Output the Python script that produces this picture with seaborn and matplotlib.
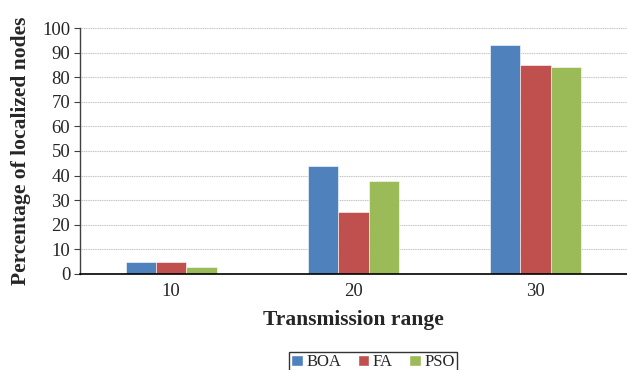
import matplotlib
matplotlib.use("Agg")
import matplotlib.pyplot as plt
import seaborn as sns
import pandas as pd

# Localization results per transmission range
ranges = ["10", "20", "30"]
boa = [5, 44, 93]
fa = [5, 25, 85]
pso = [3, 38, 84]
methods = ["BOA", "FA", "PSO"]
colors = ["#4F81BD", "#C0504D", "#9BBB59"]

df = pd.DataFrame({
    "range": ranges * 3,
    "value": boa + fa + pso,
    "method": [m for m in methods for _ in ranges],
})

sns.set_style("white")
plt.rcParams["font.family"] = ["Liberation Serif", "DejaVu Serif"]

fig = plt.figure(figsize=(6.27, 3.70), dpi=100)
ax = fig.add_axes([0.1276, 0.2595, 0.872, 0.6648])

sns.barplot(data=df, x="range", y="value", hue="method", order=ranges,
            hue_order=methods, palette=colors, width=0.5, ax=ax,
            edgecolor="white", linewidth=0.4, saturation=1, legend=True)

ax.set_ylim(0, 100)
ax.set_xlim(-0.5, 2.5)
ax.set_yticks(range(0, 101, 10))
ax.yaxis.grid(True, color="#c4c4c4", linewidth=0.8, linestyle=(0, (1, 0.6)))
ax.set_axisbelow(True)
for s in ["top", "right"]:
    ax.spines[s].set_visible(False)
ax.spines["left"].set_color("#404040")
ax.spines["left"].set_linewidth(1.0)
ax.spines["bottom"].set_color("black")
ax.spines["bottom"].set_linewidth(1.2)
ax.tick_params(axis="y", which="major", left=True, length=4, width=0.8,
               color="#404040", labelsize=13.5, pad=3)
ax.tick_params(axis="x", bottom=False, labelsize=13.5, pad=3)

ax.set_ylabel("Percentage of localized nodes", fontsize=15.5, fontweight="bold", labelpad=8)
ax.set_xlabel("Transmission range", fontsize=15.5, fontweight="bold", labelpad=7)

ax.get_legend().remove()
handles = [plt.Rectangle((0, 0), 1, 1, facecolor=c) for c in colors]
leg = fig.legend(handles, methods, loc="lower center", bbox_to_anchor=(0.595, -0.008),
                 ncol=3, fontsize=12, frameon=True, fancybox=False,
                 handlelength=0.7, handleheight=0.7, handletextpad=0.2,
                 columnspacing=1.0, borderpad=0.15, borderaxespad=0)
leg.get_frame().set_edgecolor("black")
leg.get_frame().set_linewidth(1.0)

fig.savefig("out.png", dpi=100)
